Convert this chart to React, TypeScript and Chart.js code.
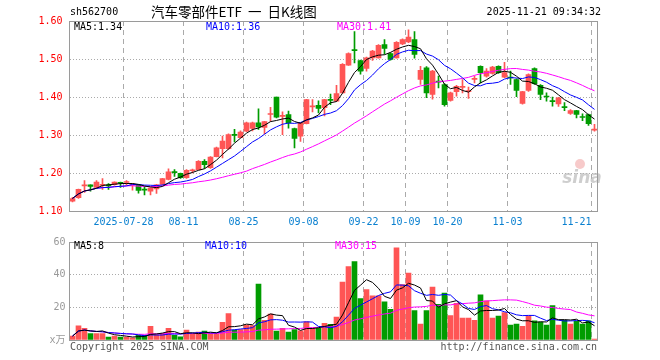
import React, { useEffect, useRef } from 'react';
import { Chart, registerables } from 'chart.js';

Chart.register(...registerables);

// ---------------- data ----------------
const days = [
  '07-15','07-16','07-17','07-18','07-21','07-22','07-23','07-24','07-25','07-28',
  '07-29','07-30','07-31','08-01','08-04','08-05','08-06','08-07','08-08','08-11',
  '08-12','08-13','08-14','08-15','08-18','08-19','08-20','08-21','08-22','08-25',
  '08-26','08-27','08-28','08-29','09-01','09-02','09-03','09-04','09-05','09-08',
  '09-09','09-10','09-11','09-12','09-15','09-16','09-17','09-18','09-19','09-22',
  '09-23','09-24','09-25','09-26','09-29','09-30','10-09','10-10','10-13','10-14',
  '10-15','10-16','10-17','10-20','10-21','10-22','10-23','10-24','10-27','10-28',
  '10-29','10-30','10-31','11-03','11-04','11-05','11-06','11-07','11-10','11-11',
  '11-12','11-13','11-14','11-17','11-18','11-19','11-20','11-21'
];

const opens = [
  1.126,1.135,1.166,1.169,1.162,1.167,1.168,1.169,1.175,1.175,
  1.168,1.169,1.158,1.152,1.158,1.170,1.183,1.203,1.199,1.188,
  1.206,1.209,1.231,1.214,1.243,1.264,1.264,1.301,1.293,1.310,
  1.317,1.332,1.320,1.354,1.400,1.349,1.354,1.317,1.297,1.330,
  1.374,1.378,1.372,1.393,1.389,1.411,1.484,1.525,1.496,1.475,
  1.503,1.503,1.538,1.514,1.503,1.540,1.545,1.551,1.446,1.477,
  1.407,1.441,1.433,1.391,1.414,1.425,1.414,1.446,1.481,1.455,
  1.462,1.481,1.452,1.452,1.446,1.383,1.417,1.475,1.431,1.402,
  1.390,1.382,1.374,1.357,1.364,1.348,1.354,1.313
];

const closes = [
  1.133,1.157,1.168,1.165,1.176,1.170,1.166,1.176,1.173,1.177,
  1.170,1.154,1.155,1.160,1.169,1.185,1.203,1.201,1.188,1.207,
  1.208,1.231,1.222,1.242,1.266,1.284,1.301,1.299,1.308,1.332,
  1.332,1.321,1.335,1.356,1.347,1.352,1.332,1.291,1.332,1.393,
  1.377,1.370,1.393,1.391,1.409,1.486,1.514,1.522,1.468,1.503,
  1.521,1.536,1.528,1.499,1.544,1.551,1.558,1.512,1.470,1.411,
  1.468,1.439,1.380,1.411,1.428,1.428,1.417,1.449,1.464,1.468,
  1.479,1.464,1.464,1.450,1.417,1.414,1.459,1.435,1.407,1.400,
  1.388,1.398,1.372,1.364,1.354,1.346,1.330,1.315
];

const highs = [
  1.136,1.158,1.180,1.169,1.180,1.185,1.172,1.177,1.176,1.180,
  1.172,1.170,1.164,1.161,1.170,1.186,1.211,1.209,1.200,1.209,
  1.210,1.233,1.235,1.243,1.268,1.297,1.303,1.315,1.311,1.334,
  1.334,1.369,1.336,1.373,1.400,1.361,1.363,1.318,1.333,1.394,
  1.393,1.390,1.394,1.408,1.431,1.488,1.516,1.572,1.497,1.505,
  1.523,1.538,1.551,1.516,1.546,1.553,1.577,1.572,1.481,1.480,
  1.470,1.455,1.435,1.413,1.431,1.446,1.426,1.455,1.482,1.475,
  1.481,1.482,1.491,1.468,1.448,1.415,1.461,1.477,1.433,1.411,
  1.400,1.399,1.385,1.367,1.365,1.356,1.355,1.328
];

const lows = [
  1.124,1.133,1.149,1.152,1.160,1.157,1.157,1.168,1.162,1.168,
  1.155,1.147,1.142,1.142,1.146,1.168,1.182,1.191,1.186,1.186,
  1.200,1.208,1.212,1.212,1.242,1.240,1.262,1.282,1.292,1.309,
  1.311,1.315,1.303,1.336,1.345,1.301,1.318,1.266,1.283,1.329,
  1.361,1.358,1.350,1.380,1.388,1.410,1.483,1.490,1.460,1.468,
  1.496,1.502,1.513,1.497,1.502,1.538,1.543,1.502,1.433,1.398,
  1.394,1.424,1.376,1.389,1.402,1.411,1.396,1.437,1.437,1.452,
  1.460,1.462,1.451,1.433,1.401,1.381,1.415,1.433,1.393,1.389,
  1.376,1.375,1.364,1.354,1.345,1.338,1.325,1.310
];

// volume, 万手
const volumes = [
  2.4,8.6,7.2,4,4,4,1.8,2.4,1.8,1.8,
  1.4,2.8,2.8,8.4,3.2,4,7.2,2.8,2,6,
  3.8,4.8,5.4,4,4,10.8,16.2,6,6.4,9.2,
  8.8,34.2,12,15.8,5.4,7.2,4.8,6.4,5.6,11.2,
  7.2,7.2,10.2,9.6,14,35.4,45,48,25.4,30.8,
  27,27,23.4,18.8,56.4,34,41,18,9.8,18,
  32.4,21.8,28.8,15,22.4,13.4,13.4,12,27.6,24,
  13.4,14.6,16.8,9.2,9.8,8.4,14.8,11.8,11,9.2,
  21,9.2,12,9.8,11.6,9.8,11.8,0.6
];

const tickDays = ['07-28','08-11','08-25','09-08','09-22','10-09','10-20','11-03','11-21'];
const tickTexts = ['2025-07-28','08-11','08-25','09-08','09-22','10-09','10-20','11-03','11-21'];

const priceMin = 1.1;
const priceMax = 1.6;
const priceStep = 0.1;
const volMin = 0;
const volMax = 60;
const volStep = 20;
const volUnit = 'x万';

const priceLegend = ['MA5:1.34', 'MA10:1.36', 'MA30:1.41'];
const volLegend = ['MA5:8', 'MA10:10', 'MA30:15'];
const symbolText = 'sh562700';
const titleText = '汽车零部件ETF 一 日K线图';
const stampText = '2025-11-21 09:34:32';
const copyrightText = 'Copyright 2025 SINA.COM';
const urlText = 'http://finance.sina.com.cn';
const watermarkText = 'sina';

// ---------------- styles ----------------
const UP = '#ff5555';
const DOWN = '#009c00';
const MA_COLORS = ['#000000', '#0000ff', '#ff00ff'];
const MONO = '"DejaVu Sans Mono", "Liberation Mono", monospace';
const GRID = '#aaaaaa';

function movingAvg(src: number[], w: number): number[] {
  return src.map((_, i) => {
    const s = Math.max(0, i - w + 1);
    let sum = 0;
    for (let k = s; k <= i; k++) sum += src[k];
    return sum / (i - s + 1);
  });
}

const n = days.length;
const candleColors = closes.map((c, i) => (c >= opens[i] ? UP : DOWN));
const tickIndexSet = new Set(tickDays.map((d) => days.indexOf(d)));

function xTickLabel(idx: number): string {
  const k = tickDays.indexOf(days[idx]);
  if (k < 0) return '';
  let t = tickTexts[k];
  if (idx === n - 1) t = t + '\u00a0\u00a0\u00a0\u00a0\u00a0';
  return t;
}

function vGridColor(ctx: any) {
  return tickIndexSet.has(ctx.index) && ctx.index !== 0 ? GRID : 'rgba(0,0,0,0)';
}

const framePlugin = {
  id: 'frame',
  afterDatasetsDraw(chart: any) {
    const { ctx, chartArea: a } = chart;
    ctx.save();
    ctx.strokeStyle = '#9a9a9a';
    ctx.lineWidth = 1;
    const l = Math.floor(a.left) + 0.5;
    const t = Math.floor(a.top) + 0.5;
    const r = Math.floor(a.right) + 0.5;
    const b = Math.floor(a.bottom) + 0.5;
    ctx.strokeRect(l, t, r - l, b - t);
    ctx.restore();
  },
};

function lineDs(label: string, data: number[], color: string) {
  return {
    type: 'line' as const,
    label,
    data,
    borderColor: color,
    backgroundColor: color,
    borderWidth: 1,
    pointRadius: 0,
    tension: 0,
    order: 0,
  };
}

export default function App() {
  const priceRef = useRef<HTMLCanvasElement | null>(null);
  const volRef = useRef<HTMLCanvasElement | null>(null);

  useEffect(() => {
    const ma5 = movingAvg(closes, 5);
    const ma10 = movingAvg(closes, 10);
    const ma30 = movingAvg(closes, 30);
    const vma5 = movingAvg(volumes, 5);
    const vma10 = movingAvg(volumes, 10);
    const vma30 = movingAvg(volumes, 30);

    const priceText = {
      id: 'priceText',
      beforeDatasetsDraw(chart: any) {
        const { ctx } = chart;
        ctx.save();
        ctx.font = 'italic bold 17px "DejaVu Sans", sans-serif';
        ctx.fillStyle = 'rgba(185,185,185,0.7)';
        ctx.textAlign = 'center';
        ctx.textBaseline = 'middle';
        ctx.fillText(watermarkText, 582, 179);
        ctx.fillStyle = 'rgba(240,150,150,0.5)';
        ctx.beginPath();
        ctx.arc(580, 164, 5, 0, Math.PI * 2);
        ctx.fill();
        ctx.restore();
      },
      afterDraw(chart: any) {
        const { ctx } = chart;
        ctx.save();
        ctx.textBaseline = 'middle';
        ctx.fillStyle = '#000';
        ctx.font = `10px ${MONO}`;
        ctx.textAlign = 'left';
        ctx.fillText(symbolText, 70, 12);
        ctx.font = '13.5px "Noto Sans CJK SC", sans-serif';
        try { (ctx as any).wordSpacing = '3px'; } catch (e) { /* ignore */ }
        ctx.fillText(titleText, 151, 12);
        try { (ctx as any).wordSpacing = '0px'; } catch (e) { /* ignore */ }
        ctx.font = `10px ${MONO}`;
        ctx.textAlign = 'right';
        ctx.fillText(stampText, 601, 12);
        ctx.textAlign = 'left';
        const xs = [74, 206, 337];
        priceLegend.forEach((t, i) => {
          ctx.fillStyle = MA_COLORS[i];
          ctx.fillText(t, xs[i], 27);
        });
        ctx.restore();
      },
    };

    const volText = {
      id: 'volText',
      afterDraw(chart: any) {
        const { ctx } = chart;
        ctx.save();
        ctx.textBaseline = 'middle';
        ctx.font = `10px ${MONO}`;
        ctx.textAlign = 'left';
        const xs = [74, 205, 335];
        volLegend.forEach((t, i) => {
          ctx.fillStyle = MA_COLORS[i];
          ctx.fillText(t, xs[i], 14);
        });
        ctx.fillStyle = '#555';
        ctx.fillText(copyrightText, 70, 115);
        ctx.textAlign = 'right';
        ctx.fillText(urlText, 597, 115);
        ctx.restore();
      },
    };

    const priceChart = new Chart(priceRef.current as HTMLCanvasElement, {
      type: 'bar',
      data: {
        labels: days,
        datasets: [
          lineDs('MA5', ma5, MA_COLORS[0]),
          lineDs('MA10', ma10, MA_COLORS[1]),
          lineDs('MA30', ma30, MA_COLORS[2]),
          {
            type: 'bar' as const,
            label: 'body',
            data: opens.map((o, i) => [o, closes[i]]) as any,
            backgroundColor: candleColors,
            grouped: false,
            categoryPercentage: 1,
            barPercentage: 1,
            maxBarThickness: 5,
            minBarLength: 1,
            borderWidth: 0,
            order: 1,
          } as any,
          {
            type: 'bar' as const,
            label: 'wick',
            data: lows.map((l, i) => [l, highs[i]]) as any,
            backgroundColor: candleColors,
            grouped: false,
            categoryPercentage: 1,
            barPercentage: 1,
            maxBarThickness: 1,
            minBarLength: 1,
            borderWidth: 0,
            order: 2,
          } as any,
        ],
      },
      options: {
        responsive: false,
        animation: false,
        events: [],
        layout: { padding: { left: 0, right: 62.5, top: 21, bottom: 0 } },
        plugins: { legend: { display: false }, tooltip: { enabled: false } },
        scales: {
          x: {
            offset: true,
            grid: { offset: true, color: vGridColor, drawTicks: false, lineWidth: 1 },
            border: { display: false, dash: [5, 4] },
            ticks: {
              autoSkip: false,
              maxRotation: 0,
              minRotation: 0,
              labelOffset: -3,
              padding: 5,
              color: '#0a80d0',
              font: { family: MONO, size: 10 },
              callback: (_v: any, idx: number) => xTickLabel(idx),
            },
            afterFit: (s: any) => { s.height = 21; },
          },
          y: {
            min: priceMin,
            max: priceMax,
            grid: { color: GRID, drawTicks: false },
            border: { display: false, dash: [1, 2] },
            ticks: {
              stepSize: priceStep,
              color: '#ff0000',
              padding: 7,
              font: { family: MONO, size: 10 },
              callback: (v: any) => Number(v).toFixed(2),
            },
            afterFit: (s: any) => { s.width = 69.5; },
          },
        },
      } as any,
      plugins: [framePlugin, priceText],
    });

    const volChart = new Chart(volRef.current as HTMLCanvasElement, {
      type: 'bar',
      data: {
        labels: days,
        datasets: [
          lineDs('MA5', vma5, MA_COLORS[0]),
          lineDs('MA10', vma10, MA_COLORS[1]),
          lineDs('MA30', vma30, MA_COLORS[2]),
          {
            type: 'bar' as const,
            label: 'vol',
            data: volumes,
            backgroundColor: candleColors,
            categoryPercentage: 1,
            barPercentage: 1,
            maxBarThickness: 5,
            borderWidth: 0,
            order: 1,
          } as any,
        ],
      },
      options: {
        responsive: false,
        animation: false,
        events: [],
        layout: { padding: { left: 0, right: 62.5, top: 8, bottom: 20 } },
        plugins: { legend: { display: false }, tooltip: { enabled: false } },
        scales: {
          x: {
            offset: true,
            grid: { offset: true, color: vGridColor, drawTicks: false },
            border: { display: false, dash: [5, 4] },
            ticks: { display: false, autoSkip: false, maxRotation: 0 },
            afterFit: (s: any) => { s.height = 0; },
          },
          y: {
            min: volMin,
            max: volMax,
            grid: { color: GRID, drawTicks: false },
            border: { display: false, dash: [1, 2] },
            ticks: {
              stepSize: volStep,
              color: '#999999',
              padding: 4,
              font: { family: `${MONO}, "Noto Sans CJK SC"`, size: 10 },
              callback: (v: any) => (Number(v) === 0 ? volUnit : String(v)),
            },
            afterFit: (s: any) => { s.width = 69.5; },
          },
        },
      } as any,
      plugins: [framePlugin, volText],
    });

    return () => {
      priceChart.destroy();
      volChart.destroy();
    };
  }, []);

  return (
    <div style={{ position: 'absolute', left: 0, top: 0, width: 660, height: 360, background: '#fff' }}>
      <canvas
        ref={priceRef}
        width={660}
        height={232}
        style={{ position: 'absolute', left: 0, top: 0, width: 660, height: 232 }}
      />
      <canvas
        ref={volRef}
        width={660}
        height={128}
        style={{ position: 'absolute', left: 0, top: 232, width: 660, height: 128 }}
      />
    </div>
  );
}
